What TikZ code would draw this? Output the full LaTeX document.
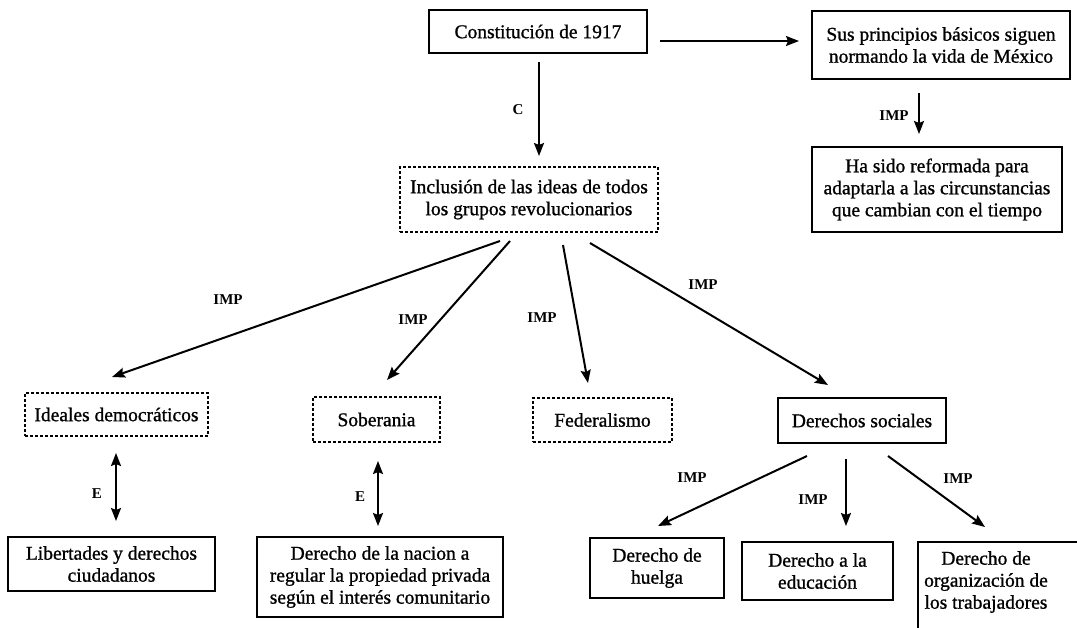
\documentclass[tikz,border=0pt]{standalone}
\usepackage{fontspec}
\setmainfont{Liberation Serif}
\newfontfamily\heavyserif{Liberation Serif}[FakeBold=1.0]
\usetikzlibrary{arrows.meta}
\newcommand{\cmboxfont}{\heavyserif\fontsize{19.5}{22}\selectfont}
\begin{document}
\begin{tikzpicture}[x=1pt,y=-1pt,
  >={Stealth[length=13pt,width=10pt,inset=2pt]},
  box/.style={draw, line width=2pt, inner sep=0pt, align=center, font=\cmboxfont},
  dotbox/.style={box, dash pattern=on 3pt off 2pt},
  txt/.style={align=center, font=\cmboxfont, inner sep=0pt},
  lbl/.style={font=\fontsize{15}{17}\selectfont\bfseries, inner sep=0pt},
  arr/.style={line width=2pt, ->},
  darr/.style={line width=2pt, <->}
]
\fill[white] (0,0) rectangle (1077,627);
\useasboundingbox (0,0) rectangle (1077,627);

% top row
\node[box, minimum width=218pt, minimum height=43pt] (const) at (538,31.5) {Constitución de 1917};
\node[box, minimum width=258pt, minimum height=68pt] (sus) at (941,45) {Sus principios básicos siguen\\normando la vida de México};
\node[box, minimum width=250pt, minimum height=85pt] (hasido) at (937,189.5) {Ha sido reformada para\\adaptarla a las circunstancias\\que cambian con el tiempo};
\node[dotbox, minimum width=258pt, minimum height=65pt] (incl) at (529,199.5) {Inclusión de las ideas de todos\\los grupos revolucionarios};

% middle row
\node[dotbox, minimum width=183pt, minimum height=43pt] (ideales) at (116.5,414.5) {Ideales democráticos};
\node[dotbox, minimum width=127pt, minimum height=45pt] (sober) at (376.5,419.5) {Soberania};
\node[dotbox, minimum width=139pt, minimum height=44pt] (feder) at (602.5,420) {Federalismo};
\node[box, minimum width=168pt, minimum height=45pt] (dsoc) at (862,420.5) {Derechos sociales};

% bottom row
\node[box, minimum width=207pt, minimum height=54pt] (libert) at (111.5,564) {Libertades y derechos\\ciudadanos};
\node[box, minimum width=246pt, minimum height=80pt] (nacion) at (380,577) {Derecho de la nacion a\\regular la propiedad privada\\según el interés comunitario};
\node[box, minimum width=134pt, minimum height=60pt] (huelga) at (657,568) {Derecho de\\huelga};
\node[box, minimum width=151pt, minimum height=58pt] (educ) at (817.5,571) {Derecho a la\\educación};
\begin{scope}
  \clip (0,0) rectangle (1077,627);
  \node[box, minimum width=190pt, minimum height=120pt, anchor=north west] (org) at (917,541) {};
\end{scope}
\node[txt] (orgtxt) at (986,582) {Derecho de\\organización de\\los trabajadores};

% connectors
\draw[arr] ([xshift=12pt,yshift=-9.5pt]const.east) -- ([xshift=-12pt,yshift=4pt]sus.west);
\draw[arr] ([xshift=1pt,yshift=-8pt]const.south) -- ([xshift=10pt,yshift=10pt]incl.north);
\draw[arr] ([xshift=-22pt,yshift=-13pt]sus.south) -- ([xshift=-18pt,yshift=12pt]hasido.north);

\draw[arr] ([xshift=-29pt,yshift=-8pt]incl.south) -- ([xshift=-4.5pt,yshift=15pt]ideales.north);
\draw[arr] ([xshift=-19pt,yshift=-8pt]incl.south) -- ([xshift=10.5pt,yshift=16pt]sober.north);
\draw[arr] ([xshift=34pt,yshift=-12pt]incl.south) -- ([xshift=-14.5pt,yshift=14pt]feder.north);
\draw[arr] ([xshift=61pt,yshift=-10pt]incl.south) -- ([xshift=-34pt,yshift=12pt]dsoc.north);

\draw[darr] ([xshift=-0.5pt,yshift=-16pt]ideales.south) -- ([xshift=4.5pt,yshift=15pt]libert.north);
\draw[darr] ([xshift=1.5pt,yshift=-18pt]sober.south) -- ([xshift=-2pt,yshift=10pt]nacion.north);

\draw[arr] ([xshift=-55pt,yshift=-12pt]dsoc.south) -- ([xshift=1pt,yshift=11pt]huelga.north);
\draw[arr] ([xshift=-16pt,yshift=-15pt]dsoc.south) -- ([xshift=28.5pt,yshift=15pt]educ.north);
\draw[arr] ([xshift=26pt,yshift=-12pt]dsoc.south) -- ([xshift=68pt,yshift=14pt]org.north west);

% connector labels
\node[lbl] (lc) at (518,110) {C};
\node[lbl] (l1) at (894,116) {IMP};
\node[lbl] (l2) at (228,300) {IMP};
\node[lbl] (l3) at (413,320) {IMP};
\node[lbl] (l4) at (542,318) {IMP};
\node[lbl] (l5) at (703,285) {IMP};
\node[lbl] (le1) at (97,494) {E};
\node[lbl] (le2) at (360,497) {E};
\node[lbl] (l6) at (692,478) {IMP};
\node[lbl] (l7) at (813,500) {IMP};
\node[lbl] (l8) at (958,479) {IMP};
\end{tikzpicture}
\end{document}
